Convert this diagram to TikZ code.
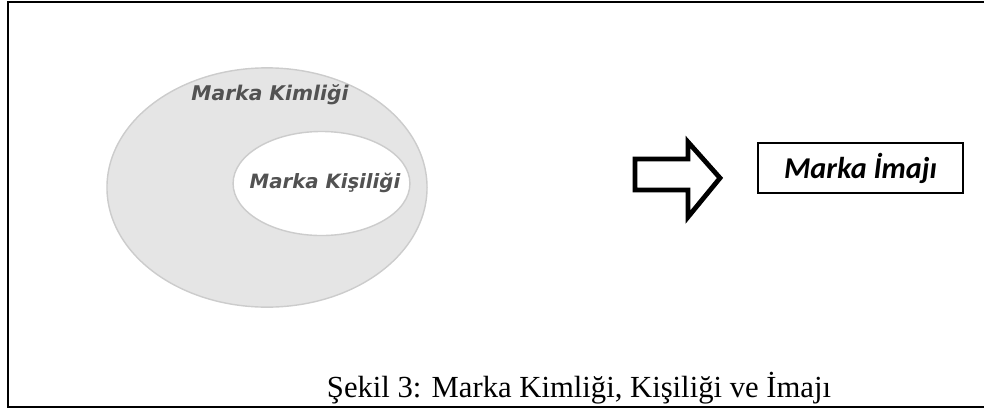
\documentclass[tikz,border=0pt]{standalone}
\usepackage{fontspec}
\setmainfont{Liberation Serif}
\newfontfamily\verdanafont{DejaVu Sans}
\newfontfamily\calibrifont{Carlito}
\usepackage{tikz}
\usetikzlibrary{shapes.geometric,positioning}

\begin{document}
\begin{tikzpicture}[
    x=0.025cm, y=-0.025cm,
    ring/.style={ellipse, draw=black!20, line width=1pt, inner sep=0pt},
    ringtext/.style={text=black!68, font=\verdanafont\bfseries\itshape\fontsize{14.4}{16}\selectfont},
    imagebox/.style={draw, line width=1.4pt, minimum width=5.125cm, minimum height=1.25cm, inner sep=0pt}
]

% Canvas
\useasboundingbox (0,0) rectangle (984,409);
\draw [line width=1.8pt] (984,2) -- (8,2) -- (8,407) -- (984,407);

% Identity and personality
\node (kimlik) at (267,187.5) [ring, fill=black!10, minimum width=8cm, minimum height=5.98cm] {};
\node (kimlikText) at (270,95) [ringtext] {Marka Kimliği};
\node (kisilik) at (321.5,183.5) [ring, fill=white, minimum width=4.42cm, minimum height=2.6cm] {};
\node (kisilikText) at (325,183) [ringtext, font=\verdanafont\bfseries\itshape\fontsize{14}{16}\selectfont] {Marka Kişiliği};

% Block arrow
\draw [line width=3.4pt, miter limit=10] (635,159) -- (688,159) -- (688,142) -- (720,178)
    -- (688,217) -- (688,190) -- (635,190) -- cycle;

% Image
\node (imaj) at (860.5,168) [imagebox, font=\calibrifont\bfseries\itshape\fontsize{21.5}{24}\selectfont] {Marka İmajı};

% Caption
\node (caption) at (579,388) [font=\fontsize{21.8}{24}\selectfont] {Şekil 3: Marka Kimliği, Kişiliği ve İmajı};

\end{tikzpicture}
\end{document}
